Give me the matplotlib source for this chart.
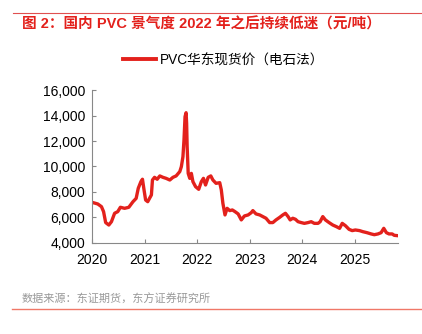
import matplotlib
matplotlib.use("Agg")
import matplotlib.pyplot as plt
from matplotlib.lines import Line2D

plt.rcParams['font.family'] = ['Liberation Sans', 'Noto Sans CJK SC', 'DejaVu Sans']

# PVC华东现货价（电石法），元/吨, dates as fractional years
years = [2020.00, 2020.11, 2020.18, 2020.22, 2020.26, 2020.32, 2020.37, 2020.43, 2020.49, 2020.54,
         2020.62, 2020.70, 2020.78, 2020.84, 2020.88, 2020.93, 2020.96, 2020.99, 2021.02, 2021.06,
         2021.13, 2021.15, 2021.19, 2021.24, 2021.29, 2021.35, 2021.41, 2021.48, 2021.54, 2021.60,
         2021.67, 2021.70, 2021.73, 2021.75, 2021.77, 2021.79, 2021.80, 2021.81, 2021.83, 2021.86,
         2021.89, 2021.92, 2021.97, 2022.03, 2022.08, 2022.12, 2022.16, 2022.21, 2022.26, 2022.30,
         2022.36, 2022.43, 2022.46, 2022.49, 2022.53, 2022.57, 2022.62, 2022.67, 2022.72, 2022.78,
         2022.84, 2022.90, 2022.97, 2023.03, 2023.06, 2023.12, 2023.19, 2023.25, 2023.31, 2023.38,
         2023.44, 2023.50, 2023.57, 2023.63, 2023.68, 2023.73, 2023.77, 2023.82, 2023.87, 2023.92,
         2023.98, 2024.04, 2024.11, 2024.17, 2024.23, 2024.30, 2024.34, 2024.39, 2024.44, 2024.51,
         2024.58, 2024.65, 2024.71, 2024.76, 2024.82, 2024.89, 2024.95, 2025.01, 2025.09, 2025.15,
         2025.23, 2025.31, 2025.37, 2025.44, 2025.50, 2025.55, 2025.60, 2025.65, 2025.71, 2025.75,
         2025.80]
price = [7190, 7060, 6850, 6460, 5600, 5410, 5670, 6330, 6460, 6800,
         6720, 6800, 7240, 7500, 8290, 8810, 9000, 8160, 7370, 7240,
         7770, 8940, 9150, 9000, 9260, 9150, 9070, 8940, 9150, 9260,
         9600, 9990, 10770, 12080, 13910, 14220, 13390, 11560, 9460, 9070,
         9460, 8810, 8420, 8210, 8810, 9070, 8550, 9150, 9260, 8940,
         8680, 8730, 8160, 7110, 6200, 6720, 6540, 6590, 6460, 6280,
         5810, 6120, 6200, 6380, 6540, 6280, 6200, 6070, 5940, 5600,
         5600, 5810, 6010, 6200, 6330, 6070, 5810, 5940, 5860, 5670,
         5600, 5540, 5600, 5670, 5540, 5540, 5670, 6070, 5810, 5600,
         5410, 5280, 5150, 5540, 5360, 5070, 4970, 5020, 4970, 4890,
         4810, 4710, 4650, 4710, 4810, 5150, 4810, 4710, 4710, 4600,
         4580]

year_ticks = [2020, 2021, 2022, 2023, 2024, 2025]
y_ticks = [4000, 6000, 8000, 10000, 12000, 14000, 16000]

red = '#E3211C'

fig = plt.figure(figsize=(4.22, 3.34), dpi=100)
ax = fig.add_axes([0.218, 0.2725, 0.725, 0.458])

ax.plot(years, price, color=red, lw=2.4, solid_joinstyle='round')
ax.set_xlim(2020, 2025.82)
ax.set_ylim(4000, 16000)
ax.set_xticks(year_ticks)
ax.set_xticklabels([str(y) for y in year_ticks])
ax.set_yticks(y_ticks)
ax.set_yticklabels([f'{v:,}' for v in y_ticks])
ax.tick_params(direction='in', length=3, color='#888888', labelsize=10, pad=5)
ax.tick_params(axis='x', pad=7)
for s in ['top', 'right']:
    ax.spines[s].set_visible(False)
for s in ['left', 'bottom']:
    ax.spines[s].set_color('#888888')
    ax.spines[s].set_linewidth(0.8)

handle = Line2D([], [], color=red, lw=2.8)
fig.legend([handle], ['PVC华东现货价（电石法）'], loc='center', bbox_to_anchor=(0.53, 0.82),
           frameon=False, fontsize=9.8, handlelength=2.4, handletextpad=0.3)

fig.add_artist(Line2D([0.03, 1.0], [0.961, 0.961], color='#E05050', lw=0.8))
fig.text(0.052, 0.928, '图 2：国内 PVC 景气度 2022 年之后持续低迷（元/吨）', color=red,
         fontsize=10.5, fontweight='bold', va='center', ha='left')
fig.text(0.052, 0.105, '数据来源：东证期货，东方证券研究所', color='#999999',
         fontsize=8, va='center', ha='left')
fig.add_artist(Line2D([0.028, 1.0], [0.075, 0.075], color='#F07868', lw=1.0))

fig.savefig('out.png', dpi=100)
